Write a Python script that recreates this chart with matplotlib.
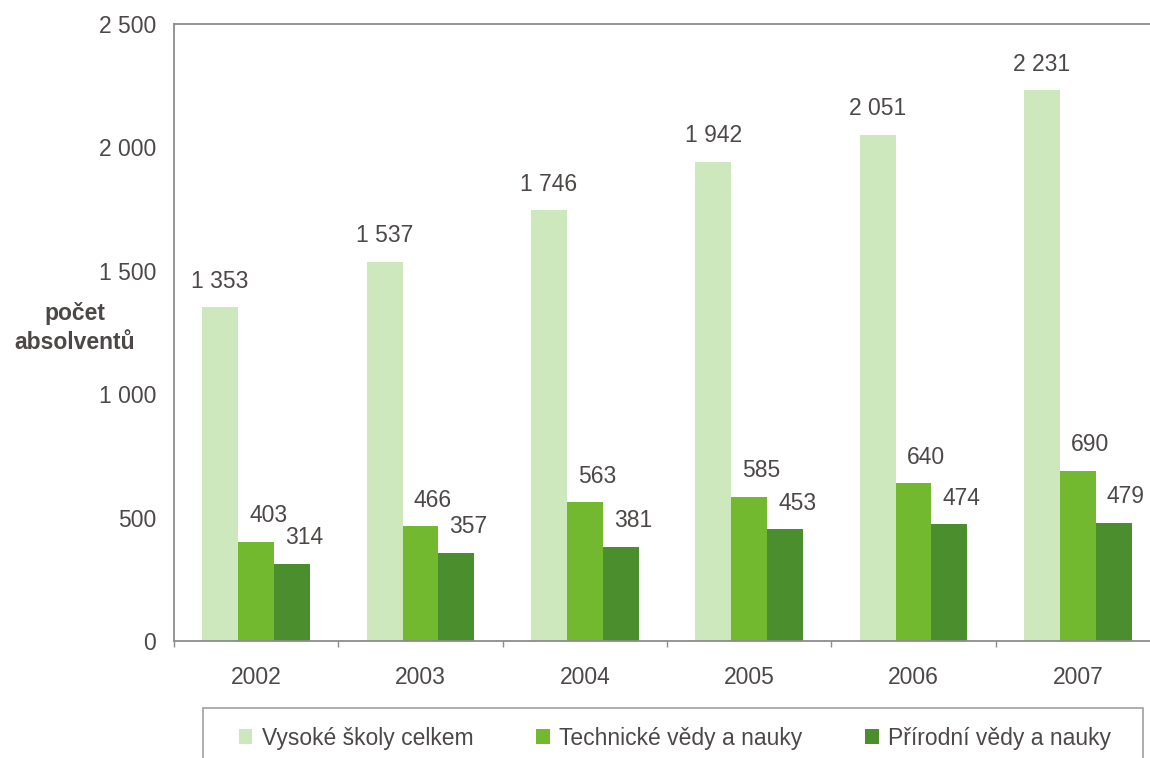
import numpy as np
import matplotlib
matplotlib.use("Agg")
import matplotlib.pyplot as plt
from matplotlib.patches import Rectangle

years = ["2002", "2003", "2004", "2005", "2006", "2007"]
vysoke_skoly = [1353, 1537, 1746, 1942, 2051, 2231]
technicke = [403, 466, 563, 585, 640, 690]
prirodni = [314, 357, 381, 453, 474, 479]
series_names = ["Vysoké školy celkem", "Technické vědy a nauky", "Přírodní vědy a nauky"]
y_ticks = [0, 500, 1000, 1500, 2000, 2500]

colors = ["#cde8bd", "#72b92f", "#4a8e2d"]
text_color = "#4d4848"
axis_color = "#8c8c8c"

plt.rcParams["font.family"] = ["Liberation Sans", "DejaVu Sans"]
plt.rcParams["font.size"] = 16.5


def space_thousands(v):
    return f"{v:,}".replace(",", " ")


fig = plt.figure(figsize=(11.5, 7.58), dpi=100)
ax = fig.add_axes([174 / 1150, 117 / 758, 986 / 1150, 617 / 758])

x = np.arange(len(years))
w = 0.219
bars = []
for i, vals in enumerate([vysoke_skoly, technicke, prirodni]):
    b = ax.bar(x + (i - 1) * w, vals, width=w, color=colors[i], label=series_names[i], zorder=2)
    bars.append(b)
    dx = 0 if i == 0 else 8.6
    for xi, v in zip(x + (i - 1) * w, vals):
        ax.annotate(space_thousands(v), (xi, v), xytext=(dx, 18.7), textcoords="offset points",
                    ha="center", va="center", color=text_color, fontsize=16.5)

ax.set_xlim(-0.5, 5.5)
ax.set_ylim(0, 2500)
ax.set_yticks(y_ticks)
ax.set_yticklabels([space_thousands(v) for v in y_ticks], color=text_color)
ax.set_xticks(x)
ax.set_xticklabels(years, color=text_color)
ax.set_xticks(np.arange(-0.5, 6, 1), minor=True)
ax.tick_params(axis="x", which="major", length=0, pad=18)
ax.tick_params(axis="x", which="minor", length=4, width=1, color=axis_color, direction="out")
ax.tick_params(axis="y", length=0, pad=13)

for side in ["left", "top", "bottom"]:
    ax.spines[side].set_color(axis_color)
    ax.spines[side].set_linewidth(1.3)
ax.spines["right"].set_visible(False)

fig.text(75 / 1150, 1 - 328 / 758, "počet\nabsolventů", ha="center", va="center",
         fontweight="bold", color=text_color, fontsize=16.5, linespacing=1.35)

# legend box at the bottom
fig.patches.append(Rectangle((203 / 1150, -0.05), 940 / 1150, 0.05 + 50 / 758,
                             transform=fig.transFigure, fill=False,
                             edgecolor="#a0a0a0", linewidth=1.2))
fig.legend(handles=bars, loc="center left", bbox_to_anchor=(218 / 1150, 1 - 738 / 758),
           ncol=3, frameon=False, handlelength=0.6, handleheight=0.6,
           handletextpad=0.4, columnspacing=2.75, labelcolor=text_color, fontsize=16.5)

fig.savefig("out.png", dpi=100)
